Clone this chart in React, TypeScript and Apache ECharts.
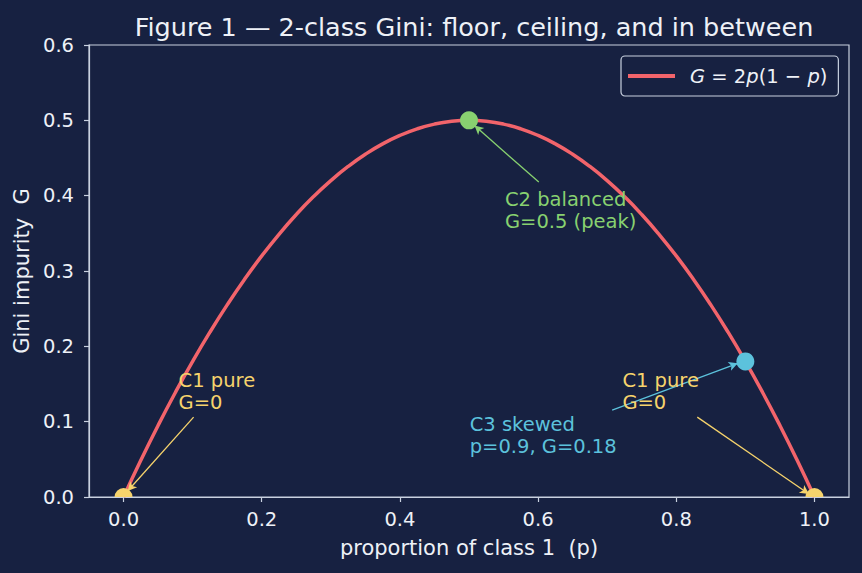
import React, { useEffect, useRef } from "react";
import * as echarts from "echarts";

const pValues = [
  0, 0.025, 0.05, 0.075, 0.1, 0.125, 0.15, 0.175, 0.2, 0.225, 0.25, 0.275, 0.3, 0.325, 0.35, 0.375, 0.4, 0.425, 0.45, 0.475, 0.5,
  0.525, 0.55, 0.575, 0.6, 0.625, 0.65, 0.675, 0.7, 0.725, 0.75, 0.775, 0.8, 0.825, 0.85, 0.875, 0.9, 0.925, 0.95, 0.975, 1.0,
];
const giniValues = [
  0, 0.04875, 0.095, 0.13875, 0.18, 0.21875, 0.255, 0.28875, 0.32, 0.34875, 0.375, 0.39875, 0.42, 0.43875, 0.455, 0.46875, 0.48, 0.48875, 0.495, 0.49875, 0.5,
  0.49875, 0.495, 0.48875, 0.48, 0.46875, 0.455, 0.43875, 0.42, 0.39875, 0.375, 0.34875, 0.32, 0.28875, 0.255, 0.21875, 0.18, 0.13875, 0.095, 0.04875, 0,
];

const xTicks = [0, 0.2, 0.4, 0.6, 0.8, 1.0];

// highlighted cases
const pureCases = [[0, 0], [1, 0]];
const balancedCase = [[0.5, 0.5]];
const skewedCase = [[0.9, 0.18]];

// annotations: [textX, textY, label, color]
const annotations: [number, number, string, string][] = [
  [0.552, 0.41, "C2 balanced\nG=0.5 (peak)", "#88d170"],
  [0.0797, 0.169, "C1 pure\nG=0", "#f6d36c"],
  [0.722, 0.169, "C1 pure\nG=0", "#f6d36c"],
  [0.501, 0.1114, "C3 skewed\np=0.9, G=0.18", "#5cc2dc"],
];

// arrows: [fromX, fromY, toX, toY, color]
const arrows: [number, number, number, number, string][] = [
  [0.601, 0.418, 0.508, 0.493, "#88d170"],
  [0.1014, 0.106, 0.006, 0.008, "#f6d36c"],
  [0.8304, 0.106, 0.992, 0.004, "#f6d36c"],
  [0.7072, 0.1154, 0.889, 0.1775, "#5cc2dc"],
];

const BG = "#172141";
const FG = "#eef1f7";
const SPINE = "#c9d1e0";
const FONT = "DejaVu Sans";

export default function App() {
  const ref = useRef<HTMLDivElement>(null);
  useEffect(() => {
    if (!ref.current) return;
    const chart = echarts.init(ref.current, null, { renderer: "svg" });
    const curve = pValues.map((p, i) => [p, giniValues[i]]);
    chart.setOption({
      animation: false,
      backgroundColor: BG,
      textStyle: { fontFamily: FONT },
      title: {
        text: "Figure 1 — 2-class Gini: floor, ceiling, and in between",
        left: 469,
        textAlign: "center",
        top: 9,
        textStyle: { color: FG, fontSize: 25.5, fontWeight: "normal", fontFamily: FONT },
      },
      legend: {
        left: 621,
        top: 56,
        padding: [10, 11, 10, 7],
        backgroundColor: BG,
        borderColor: SPINE,
        borderWidth: 1.2,
        borderRadius: 4,
        itemWidth: 47,
        itemHeight: 4,
        icon: "rect",
        data: [{ name: "gini", icon: "rect" }],
        formatter: () => "{i|G} = 2{i|p}(1 − {i|p})",
        textStyle: {
          color: FG,
          fontSize: 19.5,
          fontFamily: FONT,
          padding: [0, 0, 0, 10],
          rich: {
            i: { fontStyle: "italic", color: FG, fontSize: 19.5, fontFamily: FONT },
          },
        },
      },
      grid: {
        left: 89,
        right: 13,
        top: 45,
        bottom: 76,
        show: true,
        borderColor: SPINE,
        borderWidth: 1.2,
        backgroundColor: "transparent",
      },
      xAxis: {
        type: "value",
        min: -0.05,
        max: 1.05,
        name: "proportion of class 1  (p)",
        nameLocation: "middle",
        nameGap: 40,
        nameTextStyle: { color: FG, fontSize: 21, fontFamily: FONT },
        axisLine: { show: true, onZero: false, lineStyle: { color: SPINE, width: 1.2 } },
        axisTick: { show: true, length: 5, customValues: xTicks, lineStyle: { color: SPINE, width: 1.2 } },
        axisLabel: {
          customValues: xTicks,
          color: FG,
          fontSize: 19.5,
          margin: 12,
          fontFamily: FONT,
          formatter: (v: number) => v.toFixed(1),
        },
        splitLine: { show: false },
      },
      yAxis: {
        type: "value",
        min: 0,
        max: 0.6,
        interval: 0.1,
        name: "Gini impurity  G",
        nameLocation: "middle",
        nameGap: 56,
        nameTextStyle: { color: FG, fontSize: 21, fontFamily: FONT },
        axisLine: { show: true, onZero: false, lineStyle: { color: SPINE, width: 1.2 } },
        axisTick: { show: true, length: 5, lineStyle: { color: SPINE, width: 1.2 } },
        axisLabel: {
          color: FG,
          fontSize: 19.5,
          margin: 15,
          fontFamily: FONT,
          formatter: (v: number) => v.toFixed(1),
        },
        splitLine: { show: false },
      },
      series: [
        {
          name: "gini",
          type: "line",
          data: curve,
          smooth: true,
          showSymbol: false,
          symbol: "none",
          lineStyle: { color: "#f2646b", width: 3.5 },
          itemStyle: { color: "#f2646b" },
          z: 2,
        },
        {
          name: "pure",
          type: "scatter",
          data: pureCases,
          symbol: "path://M0,10 A10,10 0 0 1 20,10 Z",
          symbolSize: [18, 9],
          symbolOffset: [0, "-50%"],
          itemStyle: { color: "#f6d36c", opacity: 1 },
          z: 4,
        },
        {
          name: "balanced",
          type: "scatter",
          data: balancedCase,
          symbolSize: 18,
          itemStyle: { color: "#88d170", opacity: 1 },
          z: 4,
        },
        {
          name: "skewed",
          type: "scatter",
          data: skewedCase,
          symbolSize: 18,
          itemStyle: { color: "#5cc2dc", opacity: 1 },
          z: 4,
        },
        {
          name: "arrows",
          type: "line",
          data: [],
          z: 5,
          markLine: {
            silent: true,
            symbol: ["none", "arrow"],
            symbolSize: [7, 9],
            label: { show: false },
            animation: false,
            data: arrows.map(([x1, y1, x2, y2, c]) => [
              { coord: [x1, y1], lineStyle: { color: c, width: 1.3, type: "solid", opacity: 1 } },
              { coord: [x2, y2] },
            ]),
          },
        },
        {
          name: "notes",
          type: "scatter",
          symbolSize: 0,
          z: 6,
          silent: true,
          itemStyle: { opacity: 1 },
          data: annotations.map(([x, y, t, c]) => ({
            value: [x, y],
            label: {
              show: true,
              position: [0, 0],
              align: "left",
              verticalAlign: "top",
              formatter: t,
              color: c,
              opacity: 1,
              textBorderWidth: 0,
              fontSize: 19.5,
              lineHeight: 22,
              fontFamily: FONT,
            },
          })),
        },
      ],
    });
    return () => chart.dispose();
  }, []);
  return <div ref={ref} style={{ width: 862, height: 573, position: "fixed", left: 0, top: 0 }} />;
}
